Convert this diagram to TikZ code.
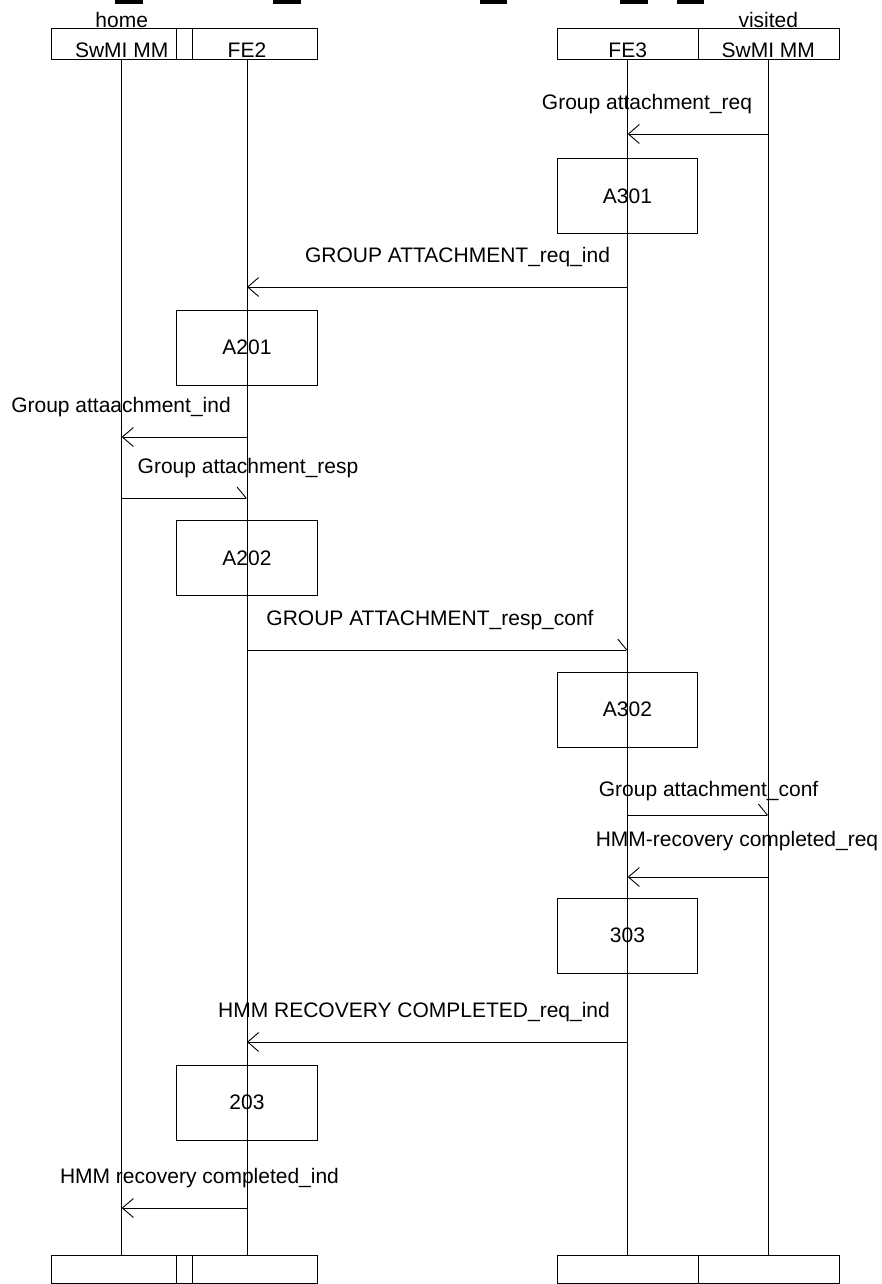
\documentclass[tikz,border=0pt]{standalone}
\usepackage{fontspec}
\setmainfont{Liberation Sans}
\usetikzlibrary{arrows.meta}
\begin{document}
\begin{tikzpicture}[x=1pt,y=-1pt,line width=0.9pt,
  txt/.style={anchor=base,inner sep=0pt,font=\fontsize{21}{25}\selectfont},
  actbox/.style={draw,inner sep=0pt,minimum width=140.5pt,minimum height=75pt,font=\fontsize{21}{25}\selectfont},
  msgfull/.style={-{Straight Barb[length=11pt,width=19pt]}},
  msghalf/.style={-{Straight Barb[left,length=9pt,width=22pt]}},
  blackbar/.style={fill=black,draw=none}]
\useasboundingbox (0,0) rectangle (882,1284);
% top bars
\fill[blackbar] (115,0) rectangle (143,4.5);
\fill[blackbar] (273,0) rectangle (301,4.5);
\fill[blackbar] (480,0) rectangle (507,4.5);
\fill[blackbar] (620,0) rectangle (648,4.5);
\fill[blackbar] (677,0) rectangle (704,4.5);
% header boxes
\draw (51.7,28.3) rectangle (317,59.3);
\draw (176.7,28.3) -- (176.7,59.3) (192.3,28.3) -- (192.3,59.3);
\draw (557,28.3) rectangle (839,59.3);
\draw (698,28.3) -- (698,59.3);
% bottom boxes
\draw (51.7,1255.7) rectangle (317,1283.3);
\draw (176.7,1255.7) -- (176.7,1283.3) (192.3,1255.7) -- (192.3,1283.3);
\draw (557,1255.7) rectangle (839,1283.3);
\draw (698,1255.7) -- (698,1283.3);
% header labels
\node[txt] (home) at (121.7,28) {home};
\node[txt] (visited) at (768.3,28) {visited};
\node[txt] (hswmi) at (121.7,58) {SwMI MM};
\node[txt] (hfe2) at (247,58) {FE2};
\node[txt] (vfe3) at (627.7,58) {FE3};
\node[txt] (vswmi) at (768.3,58) {SwMI MM};
% lifelines
\coordinate (t1) at (121.7,59.3); \coordinate (b1) at (121.7,1255.7);
\coordinate (t2) at (247,59.3);   \coordinate (b2) at (247,1255.7);
\coordinate (t3) at (627.7,59.3); \coordinate (b3) at (627.7,1255.7);
\coordinate (t4) at (768.3,59.3); \coordinate (b4) at (768.3,1255.7);
\draw (t1) -- (b1);
\draw (t2) -- (b2);
\draw (t3) -- (b3);
\draw (t4) -- (b4);
% activity boxes
\node[actbox] (a301) at (627.5,195.8) {A301};
\node[actbox] (a201) at (247,347.5) {A201};
\node[actbox] (a202) at (247,558) {A202};
\node[actbox] (a302) at (627.5,709.5) {A302};
\node[actbox] (b303) at (627.5,935.5) {303};
\node[actbox] (b203) at (247,1102.5) {203};
% messages
\node[txt] (l1) at (647,110) {Group attachment\_req};
\draw[msgfull] (t4 |- 0,134) -- (t3 |- 0,134);
\node[txt] (l3) at (457.5,262) {GROUP ATTACHMENT\_req\_ind};
\draw[msgfull] (t3 |- 0,287) -- (t2 |- 0,287);
\node[txt] (l5) at (121,412) {Group attaachment\_ind};
\draw[msgfull] (t2 |- 0,437) -- (t1 |- 0,437);
\node[txt] (l6) at (248,473) {Group attachment\_resp};
\draw[msghalf] (t1 |- 0,498) -- (t2 |- 0,498);
\node[txt] (l8) at (430,625) {GROUP ATTACHMENT\_resp\_conf};
\draw[msghalf] (t2 |- 0,650) -- (t3 |- 0,650);
\node[txt] (l10) at (708.6,796) {Group attachment\_conf};
\draw[msghalf] (t3 |- 0,815) -- (t4 |- 0,815);
\node[txt] (l11) at (737,846) {HMM-recovery completed\_req};
\draw[msgfull] (t4 |- 0,877) -- (t3 |- 0,877);
\node[txt] (l13) at (414,1017) {HMM RECOVERY COMPLETED\_req\_ind};
\draw[msgfull] (t3 |- 0,1042) -- (t2 |- 0,1042);
\node[txt] (l15) at (199.5,1183) {HMM recovery completed\_ind};
\draw[msgfull] (t2 |- 0,1208) -- (t1 |- 0,1208);
\end{tikzpicture}
\end{document}
